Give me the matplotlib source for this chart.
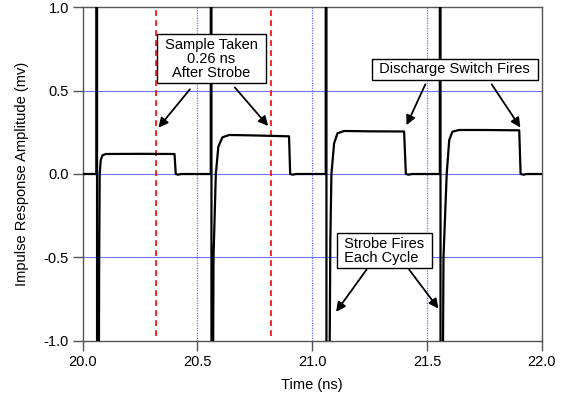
import matplotlib
matplotlib.use("Agg")
import matplotlib.pyplot as plt
from matplotlib.ticker import FixedLocator, FormatStrFormatter

plt.rcParams['font.family'] = ['Liberation Sans', 'DejaVu Sans']
plt.rcParams['axes.unicode_minus'] = False

trace_t = [20.000, 20.0595, 20.0595, 20.0625, 20.0625, 20.0700, 20.0715, 20.0740,
           20.0787, 20.0860, 20.1005, 20.2500, 20.4000, 20.4055, 20.4150, 20.4300,
           20.5580, 20.5580, 20.5610, 20.5610, 20.5670, 20.5700, 20.5800, 20.5910,
           20.6087, 20.6380, 20.7250, 20.8990, 20.9040, 20.9150, 20.9300,
           21.0590, 21.0590, 21.0620, 21.0620, 21.0740, 21.0790, 21.0837, 21.0954,
           21.1100, 21.1390, 21.2500, 21.4004, 21.4080, 21.4200, 21.4350,
           21.5560, 21.5560, 21.5590, 21.5590, 21.5680, 21.5720, 21.5860, 21.5970,
           21.6110, 21.6400, 21.7500, 21.9020, 21.9080, 21.9200, 21.9350, 22.000]
trace_v = [0.000, 0.000, 1.5, 1.5, -1.5, -1.5, -0.60, 0.000,
           0.084, 0.112, 0.120, 0.121, 0.120, 0.000, -0.004, 0.000,
           0.000, 1.5, 1.5, -1.5, -1.5, -0.50, 0.000, 0.164,
           0.220, 0.234, 0.232, 0.226, 0.000, -0.004, 0.000,
           0.000, 1.5, 1.5, -1.5, -1.5, -0.40, 0.000, 0.184,
           0.244, 0.258, 0.256, 0.255, 0.000, -0.004, 0.000,
           0.000, 1.5, 1.5, -1.5, -1.5, -0.50, 0.000, 0.204,
           0.254, 0.264, 0.264, 0.262, 0.000, -0.004, 0.000, 0.000]

sample_times = [20.32, 20.82]
x_ticks = [20.0, 20.5, 21.0, 21.5, 22.0]
y_ticks = [-1.0, -0.5, 0.0, 0.5, 1.0]
x_grid = [20.5, 21.0, 21.5]
y_grid = [-0.5, 0.0, 0.5]

fig = plt.figure(figsize=(5.63, 3.95), dpi=100)
ax = fig.add_axes([0.1469, 0.1375, 0.8153, 0.844])

for g in y_grid:
    ax.axhline(g, color='#7070ff', lw=0.8, zorder=1)
for g in x_grid:
    ax.axvline(g, color='#7070ff', lw=0.9, ls=(0, (1, 1)), zorder=1)

ax.vlines(sample_times, -0.97, 1.0, colors='red', lw=1.2, linestyles=(0, (3.5, 2.5)), zorder=2)
ax.plot(trace_t, trace_v, color='black', lw=1.6, zorder=3)

ax.set_xlim(20.0, 22.0)
ax.set_ylim(-1.0, 1.0)
ax.xaxis.set_major_locator(FixedLocator(x_ticks))
ax.yaxis.set_major_locator(FixedLocator(y_ticks))
ax.xaxis.set_major_formatter(FormatStrFormatter('%.1f'))
ax.yaxis.set_major_formatter(FormatStrFormatter('%.1f'))
ax.tick_params(direction='out', length=7, width=1, color='#555555', labelsize=10.5, pad=3)
for s in ax.spines.values():
    s.set_color('#555555')
    s.set_linewidth(1.0)

ax.set_xlabel('Time (ns)', fontsize=10.5)
ax.set_ylabel('Impulse Response Amplitude (mv)', fontsize=10.5)
ax.xaxis.set_label_coords(0.5, -0.112)
ax.yaxis.set_label_coords(-0.1175, 0.5)

box = dict(boxstyle='square,pad=0.25', fc='white', ec='black', lw=1.0)
arrow = dict(arrowstyle='-|>', color='black', lw=1.3, mutation_scale=14, shrinkA=0, shrinkB=0)

ax.text(20.561, 0.692, ' Sample Taken \n0.26 ns\nAfter Strobe', ha='center', va='center',
        multialignment='center', linespacing=1.0, fontsize=10.5, bbox=box, zorder=5)
ax.text(21.621, 0.629, ' Discharge Switch Fires ', ha='center', va='center',
        fontsize=10.5, bbox=box, zorder=5)
ax.text(21.314, -0.460, ' Strobe Fires \n Each Cycle', ha='center', va='center',
        multialignment='left', linespacing=1.0, fontsize=10.5, bbox=box, zorder=5)

for tail, tip in [((20.467, 0.508), (20.330, 0.278)),
                  ((20.663, 0.519), (20.808, 0.288)),
                  ((21.493, 0.538), (21.411, 0.293)),
                  ((21.782, 0.538), (21.907, 0.279)),
                  ((21.237, -0.573), (21.104, -0.827)),
                  ((21.422, -0.573), (21.550, -0.807))]:
    ax.annotate('', xy=tip, xytext=tail, arrowprops=arrow, zorder=6)

fig.savefig('out.png', dpi=100)
